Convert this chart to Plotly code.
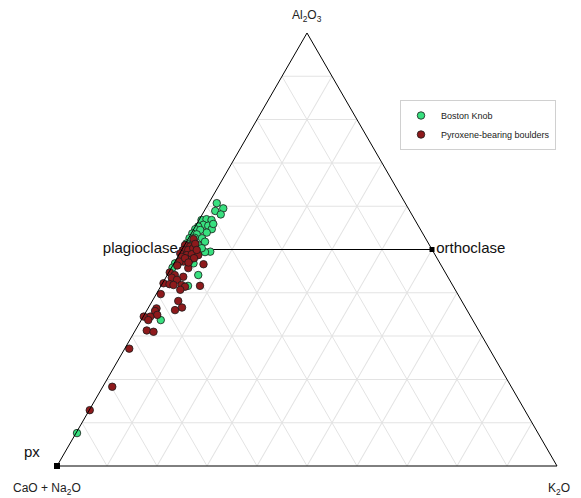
import plotly.graph_objects as go

# Boston Knob: Al2O3 and K2O fractions (CaO + Na2O is the remainder)
bk_al2o3 = [0.607, 0.595, 0.589, 0.581, 0.568, 0.570, 0.568, 0.557, 0.555, 0.553,
            0.547, 0.545, 0.547, 0.537, 0.535, 0.539, 0.526, 0.527, 0.526, 0.518,
            0.518, 0.514, 0.510, 0.495, 0.494, 0.503, 0.468, 0.472, 0.458, 0.468,
            0.441, 0.416, 0.337, 0.076, 0.559]
bk_k2o = [0.016, 0.035, 0.022, 0.037, 0.005, 0.014, 0.025, 0.014, 0.025, 0.006,
          0.003, 0.014, 0.036, 0.002, 0.012, 0.030, 0.002, 0.012, 0.027, 0.037,
          0.014, 0.002, 0.027, 0.059, 0.049, 0.038, 0.002, 0.010, 0.002, 0.039,
          0.062, 0.054, 0.039, 0.002, 0.033]

# Pyroxene-bearing boulders
pb_al2o3 = [0.524, 0.510, 0.510, 0.507, 0.499, 0.499, 0.503, 0.491, 0.487, 0.489,
            0.487, 0.483, 0.476, 0.472, 0.466, 0.472, 0.463, 0.457, 0.447, 0.441,
            0.435, 0.437, 0.422, 0.420, 0.430, 0.418, 0.418, 0.414, 0.407, 0.416,
            0.397, 0.381, 0.360, 0.366, 0.364, 0.358, 0.349, 0.345, 0.345, 0.337,
            0.313, 0.310, 0.271, 0.183, 0.129, 0.513, 0.499, 0.480, 0.480, 0.470]
pb_k2o = [0.011, 0.004, 0.001, 0.013, 0.003, 0.013, 0.021, 0.001, 0.016, 0.025,
          0.039, 0.008, 0.028, 0.017, 0.060, 0.009, 0.009, 0.034, 0.002, 0.015,
          0.012, 0.034, 0.002, 0.015, 0.025, 0.024, 0.040, 0.049, 0.043, 0.078,
          0.009, 0.052, 0.056, 0.067, 0.017, 0.017, 0.026, 0.014, 0.001, 0.014,
          0.023, 0.038, 0.009, 0.019, 0.001, 0.020, 0.030, 0.016, 0.034, 0.028]

# Reference minerals (Al2O3, CaO+Na2O, K2O)
tie_names = ["plagioclase", "orthoclase"]
tie_a = [0.5, 0.5]
tie_b = [0.5, 0.0]
tie_c = [0.0, 0.5]
px_name = ["px"]
px_a = [0.0]
px_b = [1.0]
px_c = [0.0]

FONT = "Liberation Sans, Arial, sans-serif"
W, H = 581, 498
OFF = 8  # page body margin offset


def rest(a_list, c_list):
    return [round(1 - a - c, 4) for a, c in zip(a_list, c_list)]


def px_x(x):
    return (x - OFF) / W


def px_y(y):
    return 1 - (y - OFF) / H


fig = go.Figure()

fig.add_trace(go.Scatterternary(
    a=tie_a, b=tie_b, c=tie_c, mode="lines+markers+text",
    text=tie_names, textposition=["middle left", "middle right"],
    textfont=dict(family=FONT, size=15, color="#111"),
    line=dict(color="black", width=1),
    marker=dict(symbol="square", size=5, color="black"),
    cliponaxis=False, showlegend=False, hoverinfo="skip"))

fig.add_trace(go.Scatterternary(
    a=px_a, b=px_b, c=px_c, mode="markers+text",
    text=[t + "\u00a0\u00a0\u00a0" for t in px_name], textposition="top left",
    textfont=dict(family=FONT, size=15, color="#111"),
    marker=dict(symbol="square", size=6, color="black"),
    cliponaxis=False, showlegend=False, hoverinfo="skip"))

fig.add_trace(go.Scatterternary(
    name="Boston Knob", a=bk_al2o3, b=rest(bk_al2o3, bk_k2o), c=bk_k2o,
    mode="markers", cliponaxis=False,
    marker=dict(size=7.5, color="#38e07f", line=dict(color="#1a1a1a", width=0.8))))

fig.add_trace(go.Scatterternary(
    name="Pyroxene-bearing boulders", a=pb_al2o3, b=rest(pb_al2o3, pb_k2o), c=pb_k2o,
    mode="markers", cliponaxis=False,
    marker=dict(size=7.5, color="#8e1a1c", line=dict(color="#1a1a1a", width=0.8))))

axis_common = dict(
    showline=True, linecolor="black", linewidth=1,
    showgrid=True, gridcolor="#e3e3e3", gridwidth=1,
    tick0=0, dtick=0.1, ticks="", showticklabels=False,
    title=dict(text=""), min=0)

yc = px_y((33 + 466) / 2)

fig.update_layout(
    width=W, height=H,
    margin=dict(l=0, r=0, t=0, b=0),
    paper_bgcolor="white",
    font=dict(family=FONT, color="#222"),
    ternary=dict(
        sum=1,
        bgcolor="white",
        domain=dict(x=[px_x(57), px_x(557)], y=[yc - 0.449, yc + 0.449]),
        aaxis=axis_common, baxis=axis_common, caxis=axis_common),
    legend=dict(
        x=px_x(400), y=px_y(100), xanchor="left", yanchor="top",
        bgcolor="white", bordercolor="#d0d0d0", borderwidth=1,
        font=dict(family=FONT, size=9, color="#222")),
    annotations=[
        dict(text="Al<sub>2</sub>O<sub>3</sub>", x=px_x(307), y=px_y(16),
             xref="paper", yref="paper", xanchor="center", yanchor="middle",
             showarrow=False, font=dict(family=FONT, size=12, color="#222")),
        dict(text="CaO + Na<sub>2</sub>O", x=px_x(47), y=px_y(489),
             xref="paper", yref="paper", xanchor="center", yanchor="middle",
             showarrow=False, font=dict(family=FONT, size=12, color="#222")),
        dict(text="K<sub>2</sub>O", x=px_x(559), y=px_y(489),
             xref="paper", yref="paper", xanchor="center", yanchor="middle",
             showarrow=False, font=dict(family=FONT, size=12, color="#222")),
    ],
)

fig.write_html("out.html")
